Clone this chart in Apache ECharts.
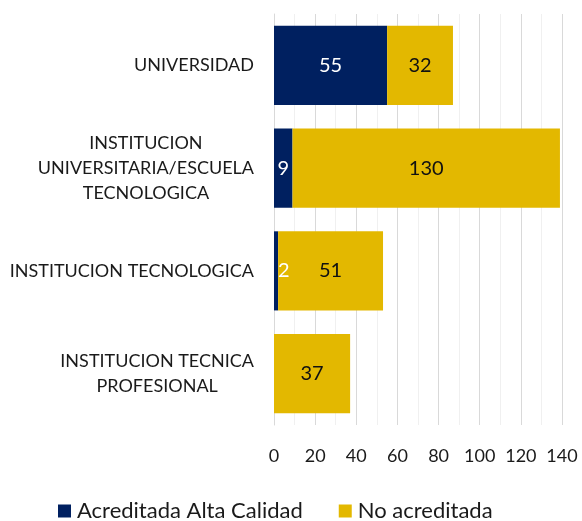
<!DOCTYPE html>
<html lang="es">
<head>
    <meta charset="UTF-8">
    <title>Acreditación por tipo de institución</title>
    <style>
        html, body { margin: 0; padding: 0; background: #fff; }
        #chart { width: 582px; height: 521px; }
    </style>
    <script src="https://cdn.jsdelivr.net/npm/echarts@6.0.0/dist/echarts.min.js"></script>
</head>
<body>
<div id="chart"></div>
<script>
    // datos
    var categories = [
        'UNIVERSIDAD',
        'INSTITUCION\nUNIVERSITARIA/ESCUELA\nTECNOLOGICA',
        'INSTITUCION TECNOLOGICA',
        'INSTITUCION TECNICA\nPROFESIONAL'
    ];
    var seriesNames = ['Acreditada Alta Calidad', 'No acreditada'];
    var acreditada = [55, 9, 2, 0];
    var noAcreditada = [32, 130, 51, 37];
    var xTicks = [0, 20, 40, 60, 80, 100, 120, 140];

    var FONT = 'Lato';
    var chart = echarts.init(document.getElementById('chart'));

    function labelFmt(p) {
        return p.value === 0 ? '' : String(p.value);
    }

    // etiquetas muy pequeñas se pegan al inicio de la barra
    var acreditadaData = acreditada.map(function (v) {
        if (v > 0 && v < 5) {
            return { value: v, label: { position: 'insideLeft', distance: 4 } };
        }
        return v;
    });

    var option = {
        animation: false,
        textStyle: { fontFamily: FONT },
        grid: { left: 274, right: 20, top: 14, bottom: 96 },
        legend: {
            bottom: -1,
            left: 58,
            padding: [0, 0],
            itemWidth: 13,
            itemHeight: 13,
            itemGap: 36,
            icon: 'rect',
            textStyle: { fontFamily: FONT, fontSize: 22, color: '#1a1a1a', padding: [0, 0, 0, 1] },
            data: seriesNames
        },
        xAxis: {
            type: 'value',
            min: xTicks[0],
            max: xTicks[xTicks.length - 1],
            interval: 20,
            axisLine: { show: false },
            axisTick: { show: false },
            axisLabel: { fontFamily: FONT, fontSize: 18, color: '#1a1a1a', margin: 22 },
            splitLine: { show: true, lineStyle: { color: '#d9d9d9', width: 1 } },
            minorTick: { show: false, splitNumber: 2 },
            minorSplitLine: { show: true, lineStyle: { color: '#f0f0f0', width: 1 } }
        },
        yAxis: {
            type: 'category',
            inverse: true,
            data: categories,
            axisLine: { show: true, lineStyle: { color: '#d9d9d9' } },
            axisTick: { show: false },
            axisLabel: {
                margin: 20,
                align: 'right',
                formatter: function (v) {
                    return v.split('\n').map(function (s) { return '{c|' + s + '}'; }).join('\n');
                },
                rich: {
                    c: { align: 'center', fontFamily: FONT, fontSize: 18, lineHeight: 25, color: '#1a1a1a' }
                }
            }
        },
        series: [
            {
                name: seriesNames[0],
                type: 'bar',
                stack: 'total',
                barCategoryGap: '23%',
                itemStyle: { color: '#002060' },
                label: {
                    show: true,
                    position: 'inside',
                    color: '#ffffff',
                    fontFamily: FONT,
                    fontSize: 20,
                    formatter: labelFmt
                },
                data: acreditadaData
            },
            {
                name: seriesNames[1],
                type: 'bar',
                stack: 'total',
                barCategoryGap: '23%',
                itemStyle: { color: '#e3b800' },
                label: {
                    show: true,
                    position: 'inside',
                    color: '#111111',
                    fontFamily: FONT,
                    fontSize: 20,
                    formatter: labelFmt
                },
                data: noAcreditada
            }
        ]
    };

    chart.setOption(option);
</script>
</body>
</html>
